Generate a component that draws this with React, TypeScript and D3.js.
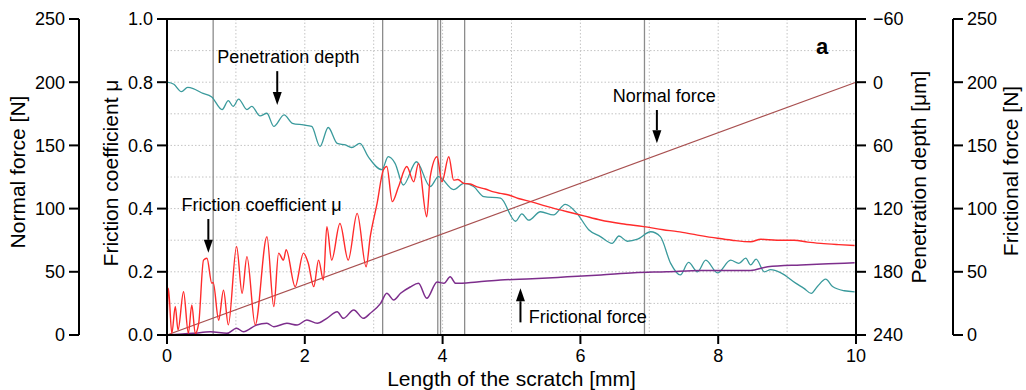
import React from 'react';
import * as d3 from 'd3';

// scratch length [mm] vs. value
const normalForce: [number, number][] = [[0, 0], [10, 200]];

const penetrationDepth: [number, number][] = [
  [0, 0], [0.1, 2], [0.21, 9], [0.3, 5], [0.38, 6], [0.5, 10], [0.65, 14], [0.8, 26], [0.89, 17.5], [0.96, 23],
  [1.04, 16], [1.16, 26], [1.23, 23], [1.35, 32], [1.45, 29.5], [1.55, 42], [1.7, 31], [1.82, 39],
  [1.98, 40.6], [2.1, 42], [2.22, 61], [2.34, 43], [2.47, 58], [2.59, 59.6], [2.68, 62], [2.8, 58],
  [2.92, 70.7], [3.12, 83], [3.21, 70.7], [3.31, 77], [3.43, 97.6], [3.62, 75.5], [3.82, 99],
  [3.94, 89.7], [4.16, 102], [4.31, 96], [4.45, 99], [4.6, 108.7], [4.84, 110], [5.06, 132],
  [5.15, 125], [5.25, 131], [5.42, 123], [5.61, 126], [5.78, 116], [5.95, 124.5], [6.12, 140],
  [6.29, 146.6], [6.46, 153], [6.56, 146], [6.68, 151], [6.83, 149], [7.02, 142], [7.16, 146.6],
  [7.31, 172], [7.45, 183], [7.57, 171], [7.7, 180], [7.82, 169], [7.99, 181], [8.18, 169],
  [8.3, 172], [8.4, 167], [8.47, 173.5], [8.55, 168], [8.67, 180], [8.76, 178], [8.91, 181],
  [9.13, 191], [9.25, 196], [9.35, 200.5], [9.44, 194], [9.56, 187], [9.66, 194], [9.83, 198], [9.98, 199],
];

const frictionCoef: [number, number][] = [
  [0, 0.02], [0.02, 0.148], [0.07, 0.005], [0.12, 0.09], [0.16, 0.016], [0.24, 0.137], [0.31, 0.005],
  [0.36, 0.095], [0.41, 0.005], [0.46, 0.037], [0.53, 0.237], [0.58, 0.243], [0.65, 0.164],
  [0.67, 0.166], [0.75, 0.047], [0.82, 0.142], [0.89, 0.032], [1.01, 0.28], [1.09, 0.132],
  [1.16, 0.248], [1.28, 0.032], [1.45, 0.311], [1.55, 0.09], [1.62, 0.259], [1.69, 0.237],
  [1.73, 0.27], [1.86, 0.153], [1.98, 0.259], [2.05, 0.227], [2.13, 0.153], [2.2, 0.237],
  [2.27, 0.174], [2.32, 0.343], [2.39, 0.237], [2.51, 0.353], [2.63, 0.237], [2.76, 0.385],
  [2.89, 0.216], [2.95, 0.311], [3.05, 0.417], [3.14, 0.522], [3.19, 0.533], [3.27, 0.422],
  [3.36, 0.469], [3.48, 0.533], [3.58, 0.485], [3.65, 0.543], [3.77, 0.374], [3.82, 0.5],
  [3.92, 0.564], [3.99, 0.485], [4.09, 0.564], [4.16, 0.49], [4.22, 0.492], [4.31, 0.48],
  [4.4, 0.478], [4.5, 0.469], [4.62, 0.462], [4.74, 0.453], [4.84, 0.448], [4.96, 0.443],
  [5.1, 0.432], [5.28, 0.422], [5.5, 0.408], [5.81, 0.39], [6.05, 0.377], [6.29, 0.364],
  [6.6, 0.352], [6.92, 0.343], [7.2, 0.333], [7.41, 0.327], [7.7, 0.316], [7.99, 0.306],
  [8.2, 0.3], [8.47, 0.295], [8.62, 0.303], [8.85, 0.3], [9.1, 0.3], [9.3, 0.294], [9.49, 0.29],
  [9.75, 0.286], [9.98, 0.283],
];

const frictionalForce: [number, number][] = [
  [0, 0], [0.38, 1.3], [0.63, 2.6], [0.87, 1.3], [1.01, 5.3], [1.11, 2.6], [1.3, 7.9], [1.45, 9.2],
  [1.55, 6.6], [1.74, 9.2], [1.89, 7.9], [2.03, 11.9], [2.18, 9.2], [2.32, 13.2], [2.47, 18.4],
  [2.56, 13.2], [2.71, 19.8], [2.85, 13.2], [2.95, 17.2], [3.1, 25], [3.19, 33], [3.29, 27.7],
  [3.39, 33], [3.53, 38], [3.65, 40.9], [3.77, 29], [3.92, 42], [4.02, 40.9], [4.11, 46],
  [4.19, 40.9], [4.5, 42], [4.84, 43.5], [5.3, 44.5], [5.81, 46], [6.3, 47.5], [6.78, 49.3],
  [7.25, 50], [7.75, 51], [8.1, 51], [8.47, 51], [8.72, 54], [9.2, 55.4], [9.6, 56.3], [9.98, 57.2],
];

// positions of the vertical event markers [mm]
const eventMarks = [0.67, 3.13, 3.93, 3.97, 4.32, 6.93];

const xTicks = [0, 2, 4, 6, 8, 10];
const muTicks = [0, 0.2, 0.4, 0.6, 0.8, 1.0];
const forceTicks = [0, 50, 100, 150, 200, 250];
const depthTicks = [-60, 0, 60, 120, 180, 240];

// annotation label: text anchor (mm, mu), arrow x (mm), arrow tail / head (mu)
const annotations = [
  { text: 'Penetration depth', tx: 0.73, ty: 0.86, ax: 1.6, from: 0.835, to: 0.728 },
  { text: 'Friction coefficient \u03bc', tx: 0.21, ty: 0.392, ax: 0.6, from: 0.367, to: 0.26 },
  { text: 'Normal force', tx: 6.47, ty: 0.737, ax: 7.11, from: 0.712, to: 0.607 },
  { text: 'Frictional force', tx: 5.25, ty: 0.037, ax: 5.13, from: 0.04, to: 0.148 },
];

const W = 1026;
const H = 390;
const left = 167;
const right = 856;
const top = 19;
const bottom = 335;
const font = '"Liberation Sans", Arial, sans-serif';

export default function App() {
  const x = d3.scaleLinear().domain([0, 10]).range([left, right]);
  const yMu = d3.scaleLinear().domain([0, 1]).range([bottom, top]);
  const yForce = d3.scaleLinear().domain([0, 250]).range([bottom, top]);
  const yDepth = d3.scaleLinear().domain([240, -60]).range([bottom, top]);

  const lineOf = (y: d3.ScaleLinear<number, number>) =>
    d3.line<[number, number]>().x(d => x(d[0])).y(d => y(d[1])).curve(d3.curveMonotoneX);

  const nfAxisX = 79;
  const ffAxisX = 953;
  const tickFs = 18;
  const titleFs = 21;

  const gridMu = d3.range(1, 10).map(i => i / 10);
  const gridX = d3.range(1, 10);

  return (
    <svg width={W} height={H} style={{ position: 'absolute', left: 0, top: 0, background: '#fff' }}
      fontFamily={font}>
      {/* grid */}
      <g stroke="#c4c4c4" strokeWidth={1} strokeDasharray="1.5 2">
        {gridMu.map(v => <line key={'h' + v} x1={left} x2={right} y1={yMu(v)} y2={yMu(v)} />)}
        {gridX.map(v => <line key={'v' + v} x1={x(v)} x2={x(v)} y1={top} y2={bottom} />)}
      </g>
      {/* event markers */}
      <g stroke="#8c8c8c" strokeWidth={1.3}>
        {eventMarks.map(v => <line key={v} x1={x(v)} x2={x(v)} y1={top} y2={bottom} />)}
      </g>
      {/* series */}
      <path d={lineOf(yForce)(normalForce) || ''} fill="none" stroke="#a85050" strokeWidth={1.2} />
      <path d={lineOf(yDepth)(penetrationDepth) || ''} fill="none" stroke="#3a9a9c" strokeWidth={1.3} />
      <path d={lineOf(yForce)(frictionalForce) || ''} fill="none" stroke="#7d2e8c" strokeWidth={1.5} />
      <path d={lineOf(yMu)(frictionCoef) || ''} fill="none" stroke="#ff2b2b" strokeWidth={1.4} />

      {/* frame */}
      <g stroke="#000" strokeWidth={2} fill="none">
        <line x1={left} x2={right} y1={top} y2={top} />
        <line x1={left} x2={right} y1={bottom} y2={bottom} />
        <line x1={left} x2={left} y1={top} y2={bottom} />
        <line x1={right} x2={right} y1={top} y2={bottom} />
        <line x1={nfAxisX} x2={nfAxisX} y1={top} y2={bottom} />
        <line x1={ffAxisX} x2={ffAxisX} y1={top} y2={bottom} />
      </g>

      {/* x axis */}
      {xTicks.map(t => (
        <g key={'x' + t}>
          <line x1={x(t)} x2={x(t)} y1={bottom} y2={bottom + 9} stroke="#000" strokeWidth={2} />
          <text x={x(t)} y={bottom + 27} textAnchor="middle" fontSize={tickFs}>{t}</text>
        </g>
      ))}
      <text x={(left + right) / 2} y={386} textAnchor="middle" fontSize={titleFs}>Length of the scratch [mm]</text>

      {/* friction coefficient axis */}
      {muTicks.map(t => (
        <g key={'m' + t}>
          <line x1={left - 10} x2={left} y1={yMu(t)} y2={yMu(t)} stroke="#000" strokeWidth={2} />
          <text x={left - 14} y={yMu(t)} dy="0.36em" textAnchor="end" fontSize={tickFs}>{t.toFixed(1)}</text>
        </g>
      ))}
      <text transform={`translate(118,${(top + bottom) / 2 - 4}) rotate(-90)`} textAnchor="middle" fontSize={titleFs}>
        Friction coefficient μ
      </text>

      {/* normal force axis */}
      {forceTicks.map(t => (
        <g key={'n' + t}>
          <line x1={nfAxisX - 10} x2={nfAxisX} y1={yForce(t)} y2={yForce(t)} stroke="#000" strokeWidth={2} />
          <text x={nfAxisX - 14} y={yForce(t)} dy="0.36em" textAnchor="end" fontSize={tickFs}>{t}</text>
        </g>
      ))}
      <text transform={`translate(25,${(top + bottom) / 2 - 5}) rotate(-90)`} textAnchor="middle" fontSize={titleFs}>
        Normal force [N]
      </text>

      {/* penetration depth axis */}
      {depthTicks.map(t => (
        <g key={'d' + t}>
          <line x1={right} x2={right + 10} y1={yDepth(t)} y2={yDepth(t)} stroke="#000" strokeWidth={2} />
          <text x={right + 17} y={yDepth(t)} dy="0.36em" textAnchor="start" fontSize={tickFs}>
            {t < 0 ? '\u2212' + Math.abs(t) : t}
          </text>
        </g>
      ))}
      <text transform={`translate(926,${(top + bottom) / 2}) rotate(-90)`} textAnchor="middle" fontSize={titleFs}>
        Penetration depth [μm]
      </text>

      {/* frictional force axis */}
      {forceTicks.map(t => (
        <g key={'f' + t}>
          <line x1={ffAxisX} x2={ffAxisX + 10} y1={yForce(t)} y2={yForce(t)} stroke="#000" strokeWidth={2} />
          <text x={ffAxisX + 14} y={yForce(t)} dy="0.36em" textAnchor="start" fontSize={tickFs}>{t}</text>
        </g>
      ))}
      <text transform={`translate(1018,${(top + bottom) / 2 - 6}) rotate(-90)`} textAnchor="middle" fontSize={titleFs}>
        Frictional force [N]
      </text>

      {/* annotations */}
      {annotations.map(a => {
        const ax = x(a.ax);
        const y0 = yMu(a.from);
        const y1 = yMu(a.to);
        const dir = y1 > y0 ? 1 : -1;
        const headLen = 13;
        return (
          <g key={a.text}>
            <text x={x(a.tx)} y={yMu(a.ty)} fontSize={18}>{a.text}</text>
            <line x1={ax} x2={ax} y1={y0} y2={y1 - dir * headLen} stroke="#000" strokeWidth={2} />
            <path d={`M${ax - 4.5},${y1 - dir * headLen} L${ax + 4.5},${y1 - dir * headLen} L${ax},${y1} Z`} fill="#000" />
          </g>
        );
      })}

      <text x={822} y={54} textAnchor="middle" fontSize={22} fontWeight="bold">a</text>
    </svg>
  );
}
